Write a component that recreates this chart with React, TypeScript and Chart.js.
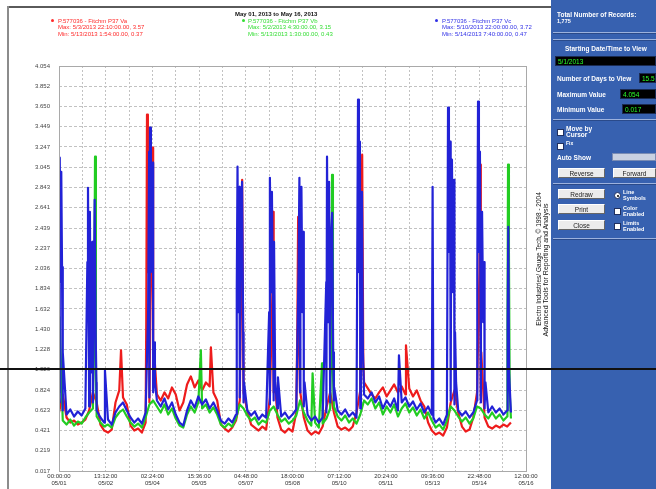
import React, { useEffect, useRef } from 'react';
import { Chart, registerables } from 'chart.js';

Chart.register(...registerables);

const TITLE = 'May 01, 2013 to May 16, 2013';

const X_LABELS: string[][] = [
  ['00:00:00', '05/01'], ['13:12:00', '05/02'], ['02:24:00', '05/04'], ['15:36:00', '05/05'],
  ['04:48:00', '05/07'], ['18:00:00', '05/08'], ['07:12:00', '05/10'], ['20:24:00', '05/11'],
  ['09:36:00', '05/13'], ['22:48:00', '05/14'], ['12:00:00', '05/16'],
];
const X_SPAN_HOURS = 372;
const SAMPLE_STEP_HOURS = 3;

const Y_TICKS = [
  4.054, 3.852, 3.650, 3.449, 3.247, 3.045, 2.843, 2.641, 2.439, 2.237, 2.036,
  1.834, 1.632, 1.430, 1.228, 1.026, 0.824, 0.623, 0.421, 0.219, 0.017,
];

const SERIES_NAMES = ['P.577036 - Fitchm P37 Va', 'P.577036 - Fitchm P37 Vb', 'P.577036 - Fitchm P37 Vc'];
const SERIES_MAX = ['Max: 5/3/2013 22:10:00.00, 3.57', 'Max: 5/2/2013 4:30:00.00, 3.15', 'Max: 5/10/2013 22:00:00.00, 3.72'];
const SERIES_MIN = ['Min: 5/13/2013 1:54:00.00, 0.37', 'Min: 5/13/2013 1:30:00.00, 0.43', 'Min: 5/14/2013 7:40:00.00, 0.47'];

// base readings every 3 hours, from 05/01 00:00
const RED_BASE = [
  0.60, 0.78, 0.55, 0.50, 0.52, 0.48, 0.50, 0.53, 0.62, 0.80,
  0.70, 0.48, 0.42, 0.40, 0.43, 0.70, 0.82, 0.75, 0.68, 0.47,
  0.42, 0.44, 0.40, 0.50, 0.70, 0.85, 0.78, 0.72, 0.80, 0.74,
  0.85, 0.78, 0.62, 0.70, 0.88, 0.96, 0.85, 0.92, 0.82, 0.90,
  0.86, 0.80, 0.72, 0.48, 0.44, 0.41, 0.45, 0.52, 0.72, 0.80,
  0.62, 0.48, 0.45, 0.42, 0.46, 0.43, 0.75, 0.80, 0.55, 0.43,
  0.40, 0.44, 0.41, 0.60, 0.82, 0.55, 0.42, 0.38, 0.41, 0.39,
  0.46, 0.65, 0.80, 0.60, 0.46, 0.43, 0.45, 0.42, 0.46, 0.60,
  0.82, 0.90, 0.84, 0.78, 0.74, 0.80, 0.85, 0.76, 0.82, 0.88,
  0.80, 0.86, 0.78, 0.84, 0.76, 0.82, 0.72, 0.66, 0.50, 0.42,
  0.38, 0.40, 0.37, 0.45, 0.70, 0.82, 0.60, 0.46, 0.41, 0.43,
  0.55, 0.80, 0.75, 0.55, 0.46, 0.44, 0.47, 0.45, 0.48, 0.46,
  0.50,
];
const GREEN_BASE = [
  0.80, 0.52, 0.48, 0.53, 0.47, 0.51, 0.49, 0.55, 0.60, 0.64,
  0.56, 0.50, 0.46, 0.48, 0.45, 0.55, 0.60, 0.63, 0.56, 0.50,
  0.46, 0.49, 0.45, 0.55, 0.68, 0.72, 0.66, 0.60, 0.68, 0.58,
  0.64, 0.54, 0.47, 0.45, 0.58, 0.66, 0.60, 0.70, 0.64, 0.68,
  0.60, 0.65, 0.58, 0.48, 0.45, 0.49, 0.46, 0.54, 0.68, 0.64,
  0.57, 0.52, 0.55, 0.48, 0.52, 0.50, 0.62, 0.66, 0.58, 0.51,
  0.54, 0.49, 0.52, 0.57, 0.72, 0.60, 0.52, 0.47, 0.50, 0.45,
  0.49, 0.54, 0.64, 0.66, 0.56, 0.52, 0.57, 0.50, 0.54, 0.49,
  0.58, 0.72, 0.68, 0.74, 0.64, 0.70, 0.58, 0.66, 0.60, 0.68,
  0.56, 0.64, 0.69, 0.60, 0.65, 0.57, 0.63, 0.54, 0.60, 0.52,
  0.45, 0.48, 0.43, 0.52, 0.66, 0.62, 0.56, 0.51, 0.55, 0.49,
  0.54, 0.66, 0.64, 0.58, 0.54, 0.60, 0.54, 0.58, 0.52, 0.56,
  0.54,
];
const BLUE_BASE = [
  0.70, 0.62, 0.58, 0.63, 0.56, 0.61, 0.57, 0.64, 0.66, 0.70,
  0.62, 0.55, 0.50, 0.53, 0.48, 0.60, 0.66, 0.70, 0.62, 0.55,
  0.50, 0.54, 0.49, 0.60, 0.75, 0.80, 0.72, 0.66, 0.74, 0.63,
  0.70, 0.58, 0.50, 0.47, 0.62, 0.72, 0.65, 0.76, 0.68, 0.73,
  0.64, 0.70, 0.62, 0.52, 0.49, 0.54, 0.50, 0.58, 0.75, 0.70,
  0.62, 0.57, 0.61, 0.53, 0.58, 0.55, 0.68, 0.72, 0.64, 0.56,
  0.60, 0.54, 0.58, 0.63, 0.80, 0.66, 0.58, 0.52, 0.56, 0.50,
  0.55, 0.60, 0.70, 0.72, 0.62, 0.58, 0.63, 0.56, 0.60, 0.55,
  0.64, 0.78, 0.74, 0.80, 0.70, 0.76, 0.64, 0.72, 0.66, 0.74,
  0.62, 0.70, 0.75, 0.66, 0.71, 0.63, 0.69, 0.60, 0.66, 0.58,
  0.50, 0.54, 0.48, 0.58, 0.72, 0.68, 0.62, 0.57, 0.61, 0.55,
  0.60, 0.72, 0.70, 0.64, 0.60, 0.66, 0.60, 0.64, 0.58, 0.62,
  0.60,
];

// [hour, value] peaks
const RED_SPIKES: [number, number][] = [
  [49.4, 1.22],
  [69.5, 1.5], [70.1, 3.57], [70.8, 2.0], [71.8, 2.8], [72.8, 1.6], [74.2, 2.5], [74.9, 3.24], [75.8, 1.2],
  [121, 1.25],
  [145.2, 2.0], [145.9, 2.92], [146.8, 1.1],
  [170.0, 1.8], [170.6, 2.6], [171.5, 1.0],
  [189.9, 1.5], [190.5, 2.55], [191.3, 1.2],
  [240.9, 2.0], [241.5, 3.17], [242.4, 1.1],
  [276.4, 1.27],
  [334.9, 2.0], [335.5, 3.07], [336.4, 1.2],
];
const GREEN_SPIKES: [number, number][] = [
  [0.4, 1.55],
  [28.1, 1.6], [28.7, 3.15], [29.4, 1.0],
  [113, 1.22],
  [202, 0.99], [209.5, 1.09],
  [217.0, 1.5], [217.5, 2.97], [218.2, 1.0],
  [357.2, 1.4], [357.7, 3.07], [358.4, 2.2], [359, 0.8],
];
const BLUE_SPIKES: [number, number][] = [
  [0.6, 3.14], [1.2, 1.9], [1.8, 3.0], [2.4, 2.05], [3.0, 1.2],
  [22.6, 2.1], [23.1, 2.84], [23.8, 1.3], [24.6, 2.6], [25.4, 1.0], [26.5, 2.3], [27.4, 1.2], [28.4, 2.72], [29.2, 1.4], [29.8, 0.9],
  [36.6, 1.02],
  [71.0, 1.6], [71.8, 3.2], [72.5, 3.44], [73.2, 2.0], [74.0, 2.9], [74.9, 3.09], [75.7, 1.3], [76.4, 0.9],
  [141.6, 1.8], [142.2, 3.05], [142.9, 1.6], [143.7, 2.85], [144.6, 1.9], [145.8, 2.9], [146.7, 1.4], [147.4, 0.9],
  [167.4, 1.6], [168.0, 2.94], [168.8, 1.8], [169.6, 2.8], [170.5, 1.5], [171.3, 2.3], [172.2, 0.9],
  [174.4, 0.95],
  [190.8, 2.0], [191.5, 2.94], [192.3, 1.7], [193.1, 2.85], [193.9, 1.6], [194.8, 2.4], [195.6, 0.9],
  [212.9, 1.9], [213.5, 3.15], [214.3, 1.5], [215.1, 2.9], [216.0, 1.3], [216.9, 2.4], [217.6, 2.59], [218.4, 1.2], [219.2, 0.85],
  [237.6, 2.2], [238.2, 3.72], [238.9, 2.0], [239.7, 3.3], [240.5, 1.6], [241.3, 2.8], [242.1, 1.2], [242.8, 0.9],
  [270.8, 1.17],
  [297.6, 2.85], [298.2, 0.55],
  [309.3, 1.6], [309.9, 3.64], [310.6, 2.2], [311.5, 3.3], [312.3, 2.0], [313.0, 3.12], [313.8, 1.8], [314.7, 2.92], [315.5, 1.4], [316.3, 0.9],
  [333.2, 2.0], [333.8, 3.70], [334.5, 2.2], [335.3, 3.2], [336.1, 1.8], [337.0, 2.6], [337.9, 1.5], [338.8, 2.1], [339.7, 0.9],
  [357.4, 1.5], [357.9, 2.45], [358.5, 1.0],
];

const RED = '#ee1c1c';
const GREEN = '#22cc22';
const BLUE = '#2222d6';

function buildPoints(base: number[], spikes: [number, number][]) {
  const pts = base.map((y, i) => ({ x: i * SAMPLE_STEP_HOURS, y }));
  for (const [x, y] of spikes) pts.push({ x, y });
  pts.sort((a, b) => a.x - b.x);
  return pts;
}

const FONT = '"Liberation Sans", Arial, sans-serif';

const abs = (s: React.CSSProperties): React.CSSProperties => ({ position: 'absolute', ...s });

function BlackBox({ left, top, width, text }: { left: number; top: number; width: number; text: string }) {
  return (
    <div style={abs({ left, top, width, height: 10, background: '#000', color: '#2bff2b', fontSize: 6.5, lineHeight: '10px', paddingLeft: 2, boxSizing: 'border-box', fontFamily: FONT, border: '1px solid #1a2a50' })}>{text}</div>
  );
}
function Button({ left, top, width, text }: { left: number; top: number; width: number; text: string }) {
  return (
    <div style={abs({ left, top, width, height: 10, background: '#ececec', color: '#222', fontSize: 6.5, lineHeight: '9px', textAlign: 'center', boxSizing: 'border-box', fontFamily: FONT, borderTop: '1px solid #fff', borderLeft: '1px solid #fff', borderRight: '1px solid #666', borderBottom: '1px solid #666' })}>{text}</div>
  );
}
function Check({ left, top, round, checked }: { left: number; top: number; round?: boolean; checked?: boolean }) {
  return (
    <div style={abs({ left, top, width: 7, height: 7, background: '#fff', border: '1px solid #203060', borderRadius: round ? 4 : 0, boxSizing: 'border-box' })}>
      {checked ? <div style={abs({ left: 1.5, top: 1.5, width: 2, height: 2, background: '#000', borderRadius: 1 })} /> : null}
    </div>
  );
}
function PanelText({ left, top, text, size }: { left: number; top: number; text: string; size?: number }) {
  return <div style={abs({ left, top, color: '#fff', fontSize: size || 6.5, fontWeight: 'bold', fontFamily: FONT, whiteSpace: 'nowrap', lineHeight: '7px' })}>{text}</div>;
}
function Divider({ top }: { top: number }) {
  return <div style={abs({ left: 553, top, width: 103, height: 1, background: '#9cb2de', borderBottom: '1px solid #2a4a8a' })} />;
}

export default function App() {
  const ref = useRef<HTMLCanvasElement | null>(null);

  useEffect(() => {
    if (!ref.current) return;
    const gridCount = (X_LABELS.length - 1) * 2;
    const gridHours = Array.from({ length: gridCount + 1 }, (_, k) => (k * X_SPAN_HOURS) / gridCount);
    const borderPlugin = {
      id: 'plotBorder',
      afterDraw(chart: any) {
        const { ctx, chartArea: a } = chart;
        ctx.save();
        ctx.strokeStyle = '#a9a9a9';
        ctx.lineWidth = 1;
        ctx.strokeRect(Math.round(a.left) + 0.5, Math.round(a.top) + 0.5, Math.round(a.right - a.left), Math.round(a.bottom - a.top));
        ctx.restore();
      },
    };
    const chart = new Chart(ref.current, {
      type: 'line',
      data: {
        datasets: [
          { label: SERIES_NAMES[2], data: buildPoints(BLUE_BASE, BLUE_SPIKES), borderColor: BLUE, backgroundColor: BLUE },
          { label: SERIES_NAMES[1], data: buildPoints(GREEN_BASE, GREEN_SPIKES), borderColor: GREEN, backgroundColor: GREEN },
          { label: SERIES_NAMES[0], data: buildPoints(RED_BASE, RED_SPIKES), borderColor: RED, backgroundColor: RED },
        ],
      },
      options: {
        animation: false,
        responsive: false,
        layout: { padding: { top: 66, right: 19, left: 0, bottom: 0 } },
        elements: { point: { radius: 0 }, line: { borderWidth: 2.2, tension: 0, borderJoinStyle: 'round' } },
        plugins: { legend: { display: false }, title: { display: false }, tooltip: { enabled: false } },
        scales: {
          x: {
            type: 'linear',
            min: 0,
            max: X_SPAN_HOURS,
            afterBuildTicks: (s: any) => { s.ticks = gridHours.map((v) => ({ value: v })); },
            afterFit: (s: any) => { s.height = 18; },
            grid: { color: '#c2c2c2', drawTicks: false, lineWidth: 1 },
            border: { display: false, dash: [2, 2] },
            ticks: {
              autoSkip: false,
              maxRotation: 0,
              minRotation: 0,
              padding: 2,
              color: '#333',
              font: { size: 6, family: FONT, lineHeight: 1.15 },
              callback: (_v: any, i: number) => (i % 2 === 0 ? X_LABELS[i / 2] : ''),
            },
          },
          y: {
            min: Y_TICKS[Y_TICKS.length - 1],
            max: Y_TICKS[0],
            afterBuildTicks: (s: any) => { s.ticks = Y_TICKS.map((v) => ({ value: v })); },
            afterFit: (s: any) => { s.width = 59; },
            grid: { color: '#c2c2c2', drawTicks: false, lineWidth: 1 },
            border: { display: false, dash: [3, 2] },
            ticks: {
              padding: 9,
              color: '#444',
              font: { size: 6, family: FONT },
              callback: (v: any) => Number(v).toFixed(3),
            },
          },
        },
      },
      plugins: [borderPlugin],
    } as any);
    return () => chart.destroy();
  }, []);

  const legendCols = [
    { left: 58, color: '#ff2a2a', mark: 51 },
    { left: 248, color: '#33dd33', mark: 242 },
    { left: 442, color: '#3030e6', mark: 435 },
  ];

  return (
    <div style={abs({ left: 0, top: 0, width: 656, height: 489, background: '#fff', overflow: 'hidden', fontFamily: FONT })}>
      <canvas ref={ref} width={545} height={489} style={abs({ left: 0, top: 0, width: 545, height: 489 })} />
      {/* window frame */}
      <div style={abs({ left: 7, top: 6, width: 544, height: 2, background: '#5a5a5a' })} />
      <div style={abs({ left: 7, top: 6, width: 2, height: 483, background: '#8c8c8c' })} />
      {/* title */}
      <div style={abs({ left: 235, top: 11, fontSize: 6, fontWeight: 'bold', color: '#111', whiteSpace: 'nowrap', lineHeight: '7px' })}>{TITLE}</div>
      {/* legend */}
      {legendCols.map((c, i) => (
        <React.Fragment key={i}>
          <div style={abs({ left: c.mark, top: 19, width: 3, height: 3, background: c.color, borderRadius: 2 })} />
          <div style={abs({ left: c.left, top: 17.5, color: c.color, fontSize: 6, lineHeight: '6.6px', whiteSpace: 'nowrap' })}>
            <div>{SERIES_NAMES[i]}</div>
            <div>{SERIES_MAX[i]}</div>
            <div>{SERIES_MIN[i]}</div>
          </div>
        </React.Fragment>
      ))}
      {/* vertical credit text */}
      <div style={abs({ left: 539 - 80, top: 259 - 4, width: 160, height: 8, fontSize: 6.5, lineHeight: '8px', color: '#111', textAlign: 'center', whiteSpace: 'nowrap', transform: 'rotate(-90deg)', transformOrigin: '50% 50%' })}>Electro Industries/ Gauge Tech, © 1998 - 2004</div>
      <div style={abs({ left: 546 - 85, top: 270 - 4, width: 170, height: 8, fontSize: 7, lineHeight: '8px', color: '#111', textAlign: 'center', whiteSpace: 'nowrap', transform: 'rotate(-90deg)', transformOrigin: '50% 50%' })}>Advanced Tools for Reporting and Analysis</div>
      {/* control panel */}
      <div style={abs({ left: 551, top: 0, width: 105, height: 489, background: '#3761b0' })} />
      <PanelText left={557} top={11} text="Total Number of Records:" />
      <PanelText left={557} top={18} text="1,775" size={5.5} />
      <Divider top={32} />
      <Divider top={39} />
      <PanelText left={565} top={45} text="Starting Date/Time to View" />
      <BlackBox left={555} top={56} width={101} text="5/1/2013" />
      <PanelText left={557} top={75} text="Number of Days to View" />
      <BlackBox left={639} top={73} width={17} text="15.5" />
      <PanelText left={557} top={91} text="Maximum Value" />
      <BlackBox left={620} top={89} width={36} text="4.054" />
      <PanelText left={557} top={106} text="Minimum Value" />
      <BlackBox left={622} top={104} width={34} text="0.017" />
      <Divider top={119} />
      <Check left={557} top={129} />
      <PanelText left={566} top={125} text="Move by" />
      <PanelText left={566} top={131} text="Cursor" />
      <Check left={557} top={143} />
      <PanelText left={566} top={140} text="Fix" size={5} />
      <PanelText left={557} top={154} text="Auto Show" />
      <div style={abs({ left: 612, top: 153, width: 44, height: 8, background: '#c9d1e2', border: '1px solid #7a8cb4', boxSizing: 'border-box' })} />
      <Button left={558} top={168} width={47} text="Reverse" />
      <Button left={613} top={168} width={43} text="Forward" />
      <Divider top={183} />
      <Button left={558} top={189} width={47} text="Redraw" />
      <Button left={558} top={204} width={47} text="Print" />
      <Button left={558} top={220} width={47} text="Close" />
      <Check left={614} top={192} round checked />
      <PanelText left={623} top={189} text="Line" size={5.5} />
      <PanelText left={623} top={195} text="Symbols" size={5.5} />
      <Check left={614} top={208} />
      <PanelText left={623} top={205} text="Color" size={5.5} />
      <PanelText left={623} top={211} text="Enabled" size={5.5} />
      <Check left={614} top={223} />
      <PanelText left={623} top={220} text="Limits" size={5.5} />
      <PanelText left={623} top={226} text="Enabled" size={5.5} />
      <Divider top={238} />
      {/* horizontal rule across the screen */}
      <div style={abs({ left: 0, top: 368, width: 656, height: 2, background: '#111' })} />
    </div>
  );
}
